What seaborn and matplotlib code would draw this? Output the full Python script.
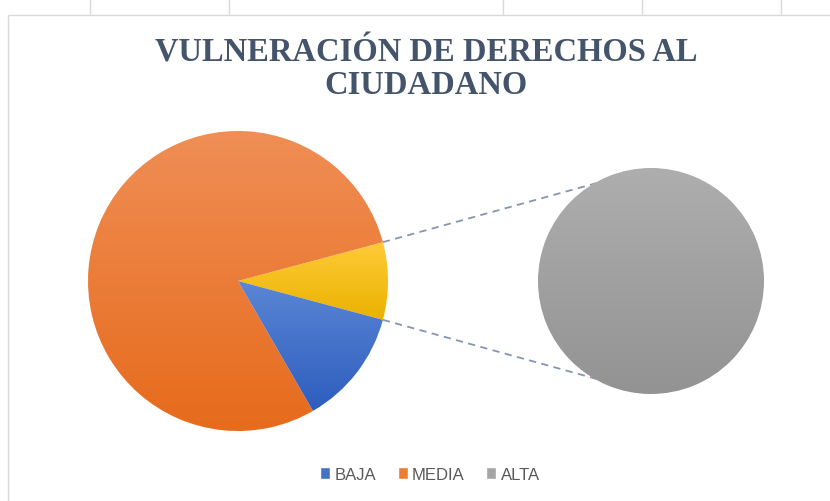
import numpy as np
import matplotlib
matplotlib.use("Agg")
import matplotlib.pyplot as plt
import matplotlib.colors as mcolors
from matplotlib.patches import Patch
import seaborn as sns

# data
categories = ["BAJA", "MEDIA", "ALTA"]
counts = [3, 19, 2]
colors = {"BAJA": "#4472C4", "MEDIA": "#ED7D31", "ALTA": "#A5A5A5", "OTRO": "#FFC000"}
# gradient ends (top, bottom) of the Excel preset fills
grad = {"BAJA": ("#5B86D4", "#2D5DBE"), "MEDIA": ("#F08E55", "#E66B1C"),
        "ALTA": ("#AEAEAE", "#939393"), "OTRO": ("#FFCB38", "#EBB200")}
title = "VULNERACIÓN DE DERECHOS AL\nCIUDADANO"

sns.set_theme(style="white")
plt.rcParams["font.family"] = ["Liberation Sans", "DejaVu Sans"]

W, H = 830, 502
fig = plt.figure(figsize=(W / 100, H / 100), dpi=100)
ax = fig.add_axes([0, 0, 1, 1])

# main pie: other (=ALTA) slice, then MEDIA, then BAJA, counter-clockwise
main_keys = ["OTRO", "MEDIA", "BAJA"]
main_vals = [counts[2], counts[1], counts[0]]
main_c, main_r = (238, H - 282), 150
sub_c, sub_r = (651, H - 282), 113
frac_other = counts[2] / sum(counts)

wedges, _ = ax.pie(main_vals, colors=[colors[k] for k in main_keys],
                   center=main_c, radius=main_r,
                   startangle=-180 * frac_other, counterclock=True,
                   wedgeprops=dict(linewidth=0), frame=True)
sub_wedges, _ = ax.pie([counts[2]], colors=[colors["ALTA"]], center=sub_c,
                       radius=sub_r, wedgeprops=dict(linewidth=0), frame=True)


def shade(wedge, key):
    # vertical gradient clipped to the slice
    top = np.array(mcolors.to_rgb(grad[key][0]))
    bot = np.array(mcolors.to_rgb(grad[key][1]))
    t = np.linspace(0, 1, 256)[:, None, None]
    img = np.repeat(top * (1 - t) + bot * t, 2, axis=1)
    bb = wedge.get_path().get_extents(wedge.get_patch_transform())
    im = ax.imshow(img, extent=[bb.x0, bb.x1, bb.y0, bb.y1],
                   origin="upper", aspect="auto", zorder=wedge.get_zorder())
    im.set_clip_path(wedge)
    wedge.set_alpha(0)


for w, k in zip(wedges, main_keys):
    shade(w, k)
shade(sub_wedges[0], "ALTA")

# connector lines from the "other" slice to the secondary pie
a1, a2 = np.deg2rad(wedges[0].theta1), np.deg2rad(wedges[0].theta2)
for a, sy in [(a2, 1), (a1, -1)]:
    x0 = main_c[0] + main_r * np.cos(a)
    y0 = main_c[1] + main_r * np.sin(a)
    ax.plot([x0, sub_c[0]], [y0, sub_c[1] + sy * sub_r], ls=(0, (4, 3)),
            color="#8497B0", lw=1.3, zorder=0)

# chart frame (sheet border + column ticks)
ax.hlines(H - 16, 8, W, color="#D9D9D9", lw=1)
ax.vlines(8, 0, H - 16, color="#D9D9D9", lw=1)
ax.vlines([90, 229, 503, 642, 781], H - 16, H, color="#D9D9D9", lw=1)

ax.set_xlim(0, W)
ax.set_ylim(0, H)
ax.set_aspect("equal")
ax.axis("off")

fig.text(426 / W, 1 - 69 / H, title, ha="center", va="center",
         family=["Liberation Serif", "DejaVu Serif"], fontweight="bold",
         fontsize=23.5, color="#44546A", linespacing=1.06)

handles = [Patch(facecolor=colors[c], label=c) for c in categories]
fig.legend(handles=handles, loc="center", bbox_to_anchor=(430 / W, 1 - 475 / H),
           ncol=3, frameon=False, fontsize=12, handlelength=0.6,
           handleheight=0.75, handletextpad=0.25, columnspacing=1.3,
           labelcolor="#595959")

fig.savefig("out.png", dpi=100)
